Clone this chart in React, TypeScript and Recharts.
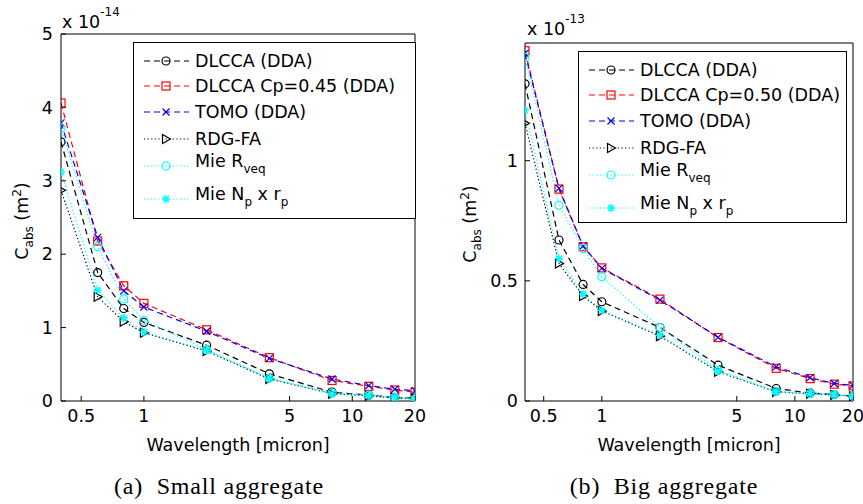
import React from 'react';
import { LineChart, Line, XAxis, YAxis, Legend } from 'recharts';

// wavelength in micron
const wavelength = [0.4, 0.6, 0.8, 1, 2, 4, 8, 12, 16, 20];

// (a) small aggregate, C_abs in 1e-14 m^2
const smallDlcca = [3.53, 1.75, 1.26, 1.07, 0.76, 0.37, 0.12, 0.08, 0.05, 0.04];
const smallCp = [4.06, 2.18, 1.57, 1.33, 0.97, 0.59, 0.28, 0.2, 0.15, 0.12];
const smallTomo = [3.79, 2.23, 1.5, 1.28, 0.95, 0.58, 0.3, 0.21, 0.16, 0.14];
const smallRdg = [2.87, 1.42, 1.08, 0.93, 0.68, 0.3, 0.1, 0.07, 0.04, 0.03];
const smallMieR = [3.72, 2.1, 1.39, 1.1, 0.7, 0.31, 0.11, 0.08, 0.05, 0.03];
const smallMieN = [3.12, 1.51, 1.13, 0.94, 0.69, 0.31, 0.1, 0.08, 0.05, 0.03];

// (b) big aggregate, C_abs in 1e-13 m^2
const bigDlcca = [1.32, 0.67, 0.485, 0.413, 0.306, 0.149, 0.052, 0.033, 0.027, 0.02];
const bigCp = [1.458, 0.882, 0.642, 0.554, 0.424, 0.264, 0.136, 0.093, 0.07, 0.063];
const bigTomo = [1.447, 0.885, 0.645, 0.552, 0.42, 0.265, 0.142, 0.097, 0.073, 0.065];
const bigRdg = [1.156, 0.572, 0.437, 0.375, 0.27, 0.122, 0.038, 0.03, 0.025, 0.02];
const bigMieR = [1.43, 0.815, 0.635, 0.517, 0.306, 0.128, 0.04, 0.031, 0.027, 0.02];
const bigMieN = [1.21, 0.593, 0.445, 0.378, 0.274, 0.125, 0.038, 0.031, 0.027, 0.02];

const xTicks = [0.5, 1, 5, 10, 20];
const smallYTicks = [0, 1, 2, 3, 4, 5];
const bigYTicks = [0, 0.5, 1];

const smallLabels = ['DLCCA (DDA)', 'DLCCA Cp=0.45 (DDA)', 'TOMO (DDA)', 'RDG-FA', 'Mie R', 'Mie N'];
const bigLabels = ['DLCCA (DDA)', 'DLCCA Cp=0.50 (DDA)', 'TOMO (DDA)', 'RDG-FA', 'Mie R', 'Mie N'];

const FONT = '"DejaVu Sans", sans-serif';
const SERIF = '"Liberation Serif", serif';

const seriesStyle = [
  { key: 'dlcca', color: '#000000', dash: '6 4', marker: 'circle' },
  { key: 'cp', color: '#ff0000', dash: '6 4', marker: 'square' },
  { key: 'tomo', color: '#0000ff', dash: '6 4', marker: 'cross' },
  { key: 'rdg', color: '#000000', dash: '1.2 2.4', marker: 'triangle' },
  { key: 'mieR', color: '#00ffff', dash: '1.2 2.4', marker: 'circle' },
  { key: 'mieN', color: '#00ffff', dash: '1.2 2.4', marker: 'star' },
];

const buildRows = (cols: number[][]) =>
  wavelength.map((w, i) => ({
    w,
    dlcca: cols[0][i],
    cp: cols[1][i],
    tomo: cols[2][i],
    rdg: cols[3][i],
    mieR: cols[4][i],
    mieN: cols[5][i],
  }));

const smallRows = buildRows([smallDlcca, smallCp, smallTomo, smallRdg, smallMieR, smallMieN]);
const bigRows = buildRows([bigDlcca, bigCp, bigTomo, bigRdg, bigMieR, bigMieN]);

function drawMarker(kind: string, cx: number, cy: number, color: string, key?: string) {
  const sw = 1.2;
  switch (kind) {
    case 'circle':
      return <circle key={key} cx={cx} cy={cy} r={4} fill="none" stroke={color} strokeWidth={sw} />;
    case 'square':
      return <rect key={key} x={cx - 4} y={cy - 4} width={8} height={8} fill="none" stroke={color} strokeWidth={sw} />;
    case 'cross':
      return (
        <path key={key} d={`M${cx - 3.5},${cy - 3.5}L${cx + 3.5},${cy + 3.5}M${cx - 3.5},${cy + 3.5}L${cx + 3.5},${cy - 3.5}`}
          stroke={color} strokeWidth={sw} fill="none" />
      );
    case 'triangle':
      return (
        <path key={key} d={`M${cx + 4.5},${cy}L${cx - 3.5},${cy - 4.5}L${cx - 3.5},${cy + 4.5}Z`}
          stroke={color} strokeWidth={sw} fill="none" />
      );
    default:
      return (
        <path key={key}
          d={`M${cx - 4},${cy}L${cx + 4},${cy}M${cx},${cy - 4}L${cx},${cy + 4}M${cx - 3},${cy - 3}L${cx + 3},${cy + 3}M${cx - 3},${cy + 3}L${cx + 3},${cy - 3}`}
          stroke={color} strokeWidth={1.5} fill="none" />
      );
  }
}

const rowY = [19, 44, 70, 97, 124, 157];

const LegendBox = ({ labels, width, height }: { labels: string[]; width: number; height: number }) => (
  <svg width={width} height={height} style={{ display: 'block', overflow: 'visible' }}>
    <rect x={0.5} y={0.5} width={width - 1} height={height - 1} fill="#ffffff" stroke="#000000" strokeWidth={1} />
    {seriesStyle.map((s, i) => {
      const y = rowY[i];
      const sub = i >= 4;
      return (
        <g key={s.key}>
          <line x1={11} x2={56} y1={y} y2={y} stroke={s.color} strokeWidth={1.2} strokeDasharray={s.dash} />
          {drawMarker(s.marker, 33, y, s.color)}
          <text x={62} y={sub ? y + 1 : y + 6} fontFamily={FONT} fontSize={17.5} fill="#000">
            {labels[i]}
            {i === 4 && <tspan fontSize={12} dy={6}>veq</tspan>}
            {i === 5 && (
              <>
                <tspan fontSize={12} dy={6}>p</tspan>
                <tspan dy={-6}> x r</tspan>
                <tspan fontSize={12} dy={6}>p</tspan>
              </>
            )}
          </text>
        </g>
      );
    })}
  </svg>
);

type PanelProps = {
  rows: any[];
  left: number;
  width: number;
  margin: { top: number; right: number; bottom: number; left: number };
  yDomain: number[];
  yTicks: number[];
  labels: string[];
  legendPos: { left: number; top: number; width: number; height: number };
  tickMargin: number;
};

const Panel = ({ rows, left, width, margin, yDomain, yTicks, labels, legendPos, tickMargin }: PanelProps) => (
  <div style={{ position: 'absolute', left, top: 0 }}>
    <LineChart width={width} height={504} data={rows} margin={margin}>
      <XAxis dataKey="w" type="number" scale="log" domain={[0.4, 20]} allowDataOverflow ticks={xTicks}
        height={30} tickSize={-5} tickMargin={14} stroke="#000" interval={0}
        tick={{ fill: '#000', fontSize: 17.5, fontFamily: FONT }} tickFormatter={(v: number) => String(v)} />
      <XAxis xAxisId="top" orientation="top" dataKey="w" type="number" scale="log" domain={[0.4, 20]}
        allowDataOverflow ticks={xTicks} height={1} tickSize={-5} tick={false} stroke="#000" interval={0} />
      <YAxis type="number" domain={yDomain} ticks={yTicks} allowDataOverflow width={61} tickSize={-5}
        tickMargin={tickMargin} stroke="#000" interval={0}
        tick={{ fill: '#000', fontSize: 17.5, fontFamily: FONT }} />
      <YAxis yAxisId="right" orientation="right" type="number" domain={yDomain} ticks={yTicks}
        allowDataOverflow width={1} tickSize={-5} tick={false} stroke="#000" interval={0} />
      {seriesStyle.map((s) => (
        <Line key={s.key} dataKey={s.key} stroke={s.color} strokeWidth={1.2} strokeDasharray={s.dash}
          isAnimationActive={false} activeDot={false}
          dot={(p: any) =>
            p.cx == null || p.cy == null ? <g key={`${s.key}-${p.index}`} /> : drawMarker(s.marker, p.cx, p.cy, s.color, `${s.key}-${p.index}`)
          } />
      ))}
      <Legend layout="vertical" align="center" verticalAlign="middle"
        wrapperStyle={{ left: legendPos.left, top: legendPos.top, width: legendPos.width, height: legendPos.height }}
        content={() => <LegendBox labels={labels} width={legendPos.width} height={legendPos.height} />} />
    </LineChart>
  </div>
);

const Overlay = () => (
  <svg width={863} height={504} style={{ position: 'absolute', left: 0, top: 0, pointerEvents: 'none' }}>
    <g fontFamily={FONT} fill="#000">
      {/* exponent labels */}
      <text x={62} y={28} fontSize={17.5}>x 10<tspan fontSize={12} dy={-12}>-14</tspan></text>
      <text x={527} y={35} fontSize={17.5}>x 10<tspan fontSize={12} dy={-12}>-13</tspan></text>
      {/* y labels */}
      <text transform="translate(28,221) rotate(-90)" textAnchor="middle" fontSize={17.5}>
        C<tspan fontSize={12} dy={5}>abs</tspan><tspan dy={-5}> (m</tspan><tspan fontSize={12} dy={-7}>2</tspan><tspan dy={7}>)</tspan>
      </text>
      <text transform="translate(476,224) rotate(-90)" textAnchor="middle" fontSize={17.5}>
        C<tspan fontSize={12} dy={5}>abs</tspan><tspan dy={-5}> (m</tspan><tspan fontSize={12} dy={-7}>2</tspan><tspan dy={7}>)</tspan>
      </text>
      {/* x labels */}
      <text x={238} y={451} textAnchor="middle" fontSize={17.5}>Wavelength [micron]</text>
      <text x={689} y={451} textAnchor="middle" fontSize={17.5}>Wavelength [micron]</text>
    </g>
    <g fontFamily={SERIF} fill="#000" fontSize={24} letterSpacing={0.8}>
      <text x={219} y={494} textAnchor="middle" style={{ whiteSpace: 'pre' }}>(a)  Small aggregate</text>
      <text x={664} y={494} textAnchor="middle" style={{ whiteSpace: 'pre' }}>(b)  Big aggregate</text>
    </g>
  </svg>
);

const App: React.FC = () => (
  <div style={{ position: 'absolute', left: 0, top: 0, width: 863, height: 504, background: '#fff' }}>
    <Panel rows={smallRows} left={0} width={431} margin={{ top: 33, right: 15, bottom: 73, left: 0 }}
      yDomain={[0, 5]} yTicks={smallYTicks} labels={smallLabels}
      legendPos={{ left: 133, top: 42, width: 283, height: 177 }} tickMargin={13} />
    <Panel rows={bigRows} left={431} width={432} margin={{ top: 42, right: 9, bottom: 73, left: 33 }}
      yDomain={[0, 1.49]} yTicks={bigYTicks} labels={bigLabels}
      legendPos={{ left: 147, top: 51, width: 269, height: 172 }} tickMargin={12} />
    <Overlay />
  </div>
);

export default App;
